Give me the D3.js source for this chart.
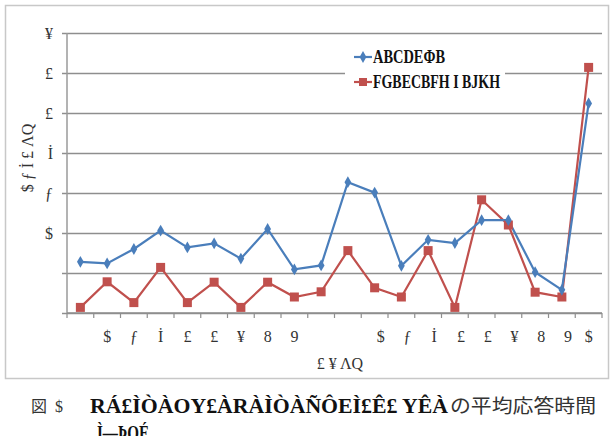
<!DOCTYPE html>
<html>
<head>
<meta charset="utf-8">
<script src="https://cdn.jsdelivr.net/npm/d3@7"></script>
<style>
  body { margin: 0; background: #fff; }
  svg { display: block; }
  .tick-label { font-family: 'Liberation Serif', serif; font-size: 16px; fill: #333; }
  .garble { font-family: 'Liberation Serif', serif; fill: #111; font-weight: bold; }
</style>
</head>
<body>
<script>
// categories along the bottom (as they come out in the picture)
var categories = ['', '$', 'ƒ', 'İ', '£', '£', '¥', '8', '9', '', '', '$', 'ƒ', 'İ', '£', '£', '¥', '8', '9', '$'];
// y tick labels, one per gridline from 0 up
var yTicks = [0, 1, 2, 3, 4, 5, 6, 7];
var yTickLabels = ['', '', '$', 'ƒ', 'İ', '£', '£', '¥'];

var seriesNames = ['ABCDEΦB', 'FGBECBFH I BJKH'];
var blueValues = [1.28, 1.24, 1.6, 2.06, 1.64, 1.74, 1.36, 2.1, 1.09, 1.19,
                  3.27, 3.01, 1.18, 1.83, 1.75, 2.32, 2.32, 1.02, 0.58, 5.24];
var redValues = [0.14, 0.78, 0.26, 1.14, 0.26, 0.77, 0.14, 0.77, 0.4, 0.53,
                 1.56, 0.63, 0.4, 1.56, 0.14, 2.83, 2.2, 0.52, 0.4, 6.14];

var width = 614;
var height = 436;
var plotLeft = 67, plotRight = 602, plotTop = 33, plotBottom = 313;

var svg = d3.select('body').append('svg')
  .attr('width', width)
  .attr('height', height);

// chart area frame
svg.append('rect')
  .attr('x', 5.5).attr('y', 5.5)
  .attr('width', 603).attr('height', 373)
  .attr('fill', '#fff')
  .attr('stroke', '#c8c8c8')
  .attr('stroke-width', 1.5);

var x = d3.scaleBand()
  .domain(d3.range(categories.length))
  .range([plotLeft, plotRight]);

var y = d3.scaleLinear()
  .domain([0, 7])
  .range([plotBottom, plotTop]);

// gridlines + y ticks
var yAxis = svg.append('g')
  .attr('transform', 'translate(' + plotLeft + ',0)')
  .call(d3.axisLeft(y).tickValues(yTicks)
    .tickSize(-(plotRight - plotLeft))
    .tickFormat(function(d, i) { return yTickLabels[i]; }));
yAxis.select('.domain').remove();
yAxis.attr('font-size', null).attr('font-family', null);
yAxis.selectAll('.tick line')
  .attr('stroke', '#8e8e8e')
  .attr('stroke-width', 1.6)
  .attr('x1', -5);
yAxis.selectAll('.tick text')
  .attr('class', 'tick-label')
  .attr('x', -14);

// left axis line
svg.append('line')
  .attr('x1', plotLeft).attr('x2', plotLeft)
  .attr('y1', plotTop).attr('y2', plotBottom)
  .attr('stroke', '#9a9a9a')
  .attr('stroke-width', 1.5);

// bottom axis with ticks at category edges
var xEdges = d3.range(categories.length + 1).map(function(i) { return plotLeft + i * x.step(); });
svg.append('line')
  .attr('x1', plotLeft).attr('x2', plotRight)
  .attr('y1', plotBottom).attr('y2', plotBottom)
  .attr('stroke', '#8e8e8e')
  .attr('stroke-width', 1.6);
svg.selectAll('.xtick')
  .data(xEdges)
  .enter().append('line')
    .attr('class', 'xtick')
    .attr('x1', function(d) { return d; })
    .attr('x2', function(d) { return d; })
    .attr('y1', plotBottom)
    .attr('y2', plotBottom + 5)
    .attr('stroke', '#8e8e8e')
    .attr('stroke-width', 1.2);

svg.selectAll('.xlabel')
  .data(categories)
  .enter().append('text')
    .attr('class', 'tick-label')
    .attr('x', function(d, i) { return x(i) + x.bandwidth() / 2 + (i >= 11 && i <= 18 ? 6 : 0); })
    .attr('y', 342)
    .attr('text-anchor', 'middle')
    .text(function(d) { return d; });

// axis titles
svg.append('text')
  .attr('class', 'tick-label')
  .attr('x', 340).attr('y', 369)
  .attr('text-anchor', 'middle')
  .text('£ ¥ ΛQ');

svg.append('text')
  .attr('class', 'tick-label')
  .attr('transform', 'translate(33,158) rotate(-90)')
  .attr('text-anchor', 'middle')
  .text('$ ƒ İ £ ΛQ');

// series
var line = d3.line()
  .x(function(d, i) { return x(i) + x.bandwidth() / 2; })
  .y(function(d) { return y(d); });

var blue = '#4a7ebb', red = '#c0504d';

svg.append('path')
  .datum(redValues)
  .attr('d', line)
  .attr('fill', 'none')
  .attr('stroke', red)
  .attr('stroke-width', 2.2);

svg.append('path')
  .datum(blueValues)
  .attr('d', line)
  .attr('fill', 'none')
  .attr('stroke', blue)
  .attr('stroke-width', 2.2);

svg.selectAll('.rmark')
  .data(redValues)
  .enter().append('rect')
    .attr('class', 'rmark')
    .attr('x', function(d, i) { return x(i) + x.bandwidth() / 2 - 4.5; })
    .attr('y', function(d) { return y(d) - 4.5; })
    .attr('width', 9).attr('height', 9)
    .attr('fill', red);

var diamond = d3.symbol().type(d3.symbolDiamond).size(40);
svg.selectAll('.bmark')
  .data(blueValues)
  .enter().append('path')
    .attr('class', 'bmark')
    .attr('transform', function(d, i) { return 'translate(' + (x(i) + x.bandwidth() / 2) + ',' + y(d) + ')'; })
    .attr('d', diamond)
    .attr('fill', blue);

// legend
var legend = svg.append('g');
legend.append('rect')
  .attr('x', 345).attr('y', 46)
  .attr('width', 160).attr('height', 50)
  .attr('fill', '#fff');
var legendItems = [{name: seriesNames[0], color: blue, y: 57, w: 72},
                   {name: seriesNames[1], color: red, y: 82, w: 127}];
legendItems.forEach(function(d, i) {
  legend.append('line')
    .attr('x1', 354).attr('x2', 372)
    .attr('y1', d.y).attr('y2', d.y)
    .attr('stroke', d.color).attr('stroke-width', 2.2);
  if (i === 0) {
    legend.append('path')
      .attr('transform', 'translate(363,' + d.y + ')')
      .attr('d', diamond).attr('fill', d.color);
  } else {
    legend.append('rect')
      .attr('x', 359).attr('y', d.y - 4)
      .attr('width', 8).attr('height', 8)
      .attr('fill', d.color);
  }
  legend.append('text')
    .attr('class', 'garble')
    .attr('x', 373).attr('y', d.y + 6)
    .attr('font-size', 18)
    .attr('textLength', d.w)
    .attr('lengthAdjust', 'spacingAndGlyphs')
    .text(d.name);
});

// caption
svg.append('text')
  .attr('x', 31).attr('y', 412)
  .attr('font-family', "'Noto Sans CJK JP', sans-serif")
  .attr('font-size', 16)
  .attr('fill', '#333')
  .text('図');
svg.append('text')
  .attr('class', 'tick-label')
  .attr('x', 55).attr('y', 412)
  .attr('font-size', 17)
  .text('$');
svg.append('text')
  .attr('class', 'garble')
  .attr('x', 90).attr('y', 413)
  .attr('font-size', 21)
  .attr('textLength', 358)
  .attr('lengthAdjust', 'spacingAndGlyphs')
  .text('RÁ£ÌÒÀOY£ÀRÀÌÒÀÑÔEÌ£Ê£ YÊÀ');
svg.append('text')
  .attr('x', 450).attr('y', 413)
  .attr('font-family', "'Noto Sans CJK JP', sans-serif")
  .attr('font-size', 19)
  .attr('fill', '#333')
  .attr('textLength', 146)
  .attr('lengthAdjust', 'spacingAndGlyphs')
  .text('の平均応答時間');
svg.append('text')
  .attr('class', 'garble')
  .attr('x', 97).attr('y', 440)
  .attr('font-size', 20)
  .attr('textLength', 52)
  .attr('lengthAdjust', 'spacingAndGlyphs')
  .text('Ì—ÞOÉ');
</script>
</body>
</html>
